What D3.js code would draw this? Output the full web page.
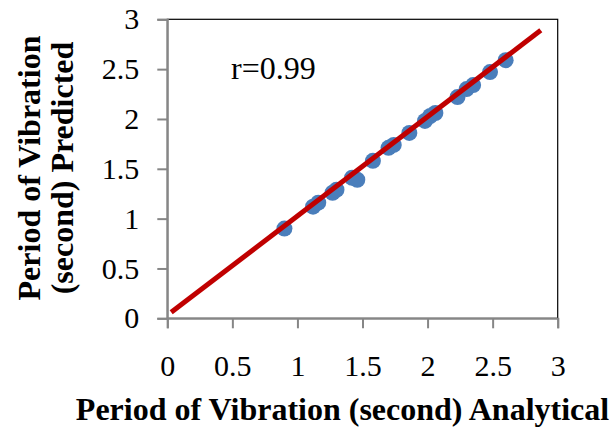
<!DOCTYPE html>
<html>
<head>
<meta charset="utf-8">
<script src="https://cdn.jsdelivr.net/npm/d3@7"></script>
<style>
  body { margin: 0; background: #fff; }
  svg text { font-family: "Liberation Serif", "Times New Roman", serif; }
</style>
</head>
<body>
<div id="chart"></div>
<script>
// analytical vs predicted period of vibration
var analytical = [0.90, 1.12, 1.16, 1.27, 1.30, 1.42, 1.46, 1.58, 1.70, 1.74, 1.86, 1.98, 2.02, 2.06, 2.23, 2.30, 2.35, 2.48, 2.60];
var predicted  = [0.90, 1.12, 1.16, 1.26, 1.29, 1.41, 1.39, 1.58, 1.71, 1.74, 1.86, 1.98, 2.03, 2.06, 2.22, 2.30, 2.34, 2.47, 2.59];

// red fitted line, start and end
var fitX = [0.03, 2.87];
var fitY = [0.06, 2.89];

var xTicks = [0, 0.5, 1, 1.5, 2, 2.5, 3];
var yTicks = [0, 0.5, 1, 1.5, 2, 2.5, 3];
var xTitle = "Period of Vibration (second) Analytical";
var yTitle = ["Period of Vibration", "(second) Predicted"];
var note = "r=0.99";

var width = 609, height = 429;
var plotL = 167.3, plotR = 557.7, plotT = 19.3, plotB = 318.3;

var svg = d3.select("#chart").append("svg")
    .attr("width", width)
    .attr("height", height);

var x = d3.scaleLinear().domain([0, 3]).range([plotL, plotR]);
var y = d3.scaleLinear().domain([0, 3]).range([plotB, plotT]);

// plot area border (top and right in black)
svg.append("rect")
    .attr("x", plotL).attr("y", plotT)
    .attr("width", plotR - plotL).attr("height", plotB - plotT)
    .attr("fill", "none").attr("stroke", "#000").attr("stroke-width", 1.2);

var xAxis = svg.append("g")
    .attr("transform", "translate(0," + plotB + ")")
    .call(d3.axisBottom(x).tickValues(xTicks).tickSize(10).tickPadding(26)
        .tickFormat(function(d) { return d; }));

var yAxis = svg.append("g")
    .attr("transform", "translate(" + plotL + ",0)")
    .call(d3.axisLeft(y).tickValues(yTicks).tickSize(10).tickPadding(18)
        .tickFormat(function(d) { return d; }));

[xAxis, yAxis].forEach(function(ax) {
    ax.select(".domain").attr("stroke", "#868686").attr("stroke-width", 2);
    ax.selectAll(".tick line").attr("stroke", "#868686").attr("stroke-width", 2);
    ax.selectAll(".tick text")
        .attr("fill", "#000")
        .style("font-family", "'Liberation Serif', serif")
        .style("font-size", "30px");
});

// points
svg.append("g").selectAll("circle")
    .data(analytical)
    .enter().append("circle")
    .attr("cx", function(d) { return x(d); })
    .attr("cy", function(d, i) { return y(predicted[i]); })
    .attr("r", 8)
    .attr("fill", "#4A7EBB");

// fitted line
svg.append("line")
    .attr("x1", x(fitX[0])).attr("y1", y(fitY[0]))
    .attr("x2", x(fitX[1])).attr("y2", y(fitY[1]))
    .attr("stroke", "#C00000")
    .attr("stroke-width", 5);

svg.append("text")
    .attr("x", 231).attr("y", 79)
    .style("font-size", "32px")
    .text(note);

svg.append("text")
    .attr("x", (78 + 607) / 2).attr("y", 420)
    .attr("text-anchor", "middle")
    .style("font-size", "32px").style("font-weight", "bold")
    .text(xTitle);

svg.append("g")
    .attr("transform", "translate(40,168) rotate(-90)")
    .selectAll("text")
    .data(yTitle)
    .enter().append("text")
    .attr("y", function(d, i) { return i * 33; })
    .attr("text-anchor", "middle")
    .style("font-size", "32px").style("font-weight", "bold")
    .text(function(d) { return d; });
</script>
</body>
</html>
